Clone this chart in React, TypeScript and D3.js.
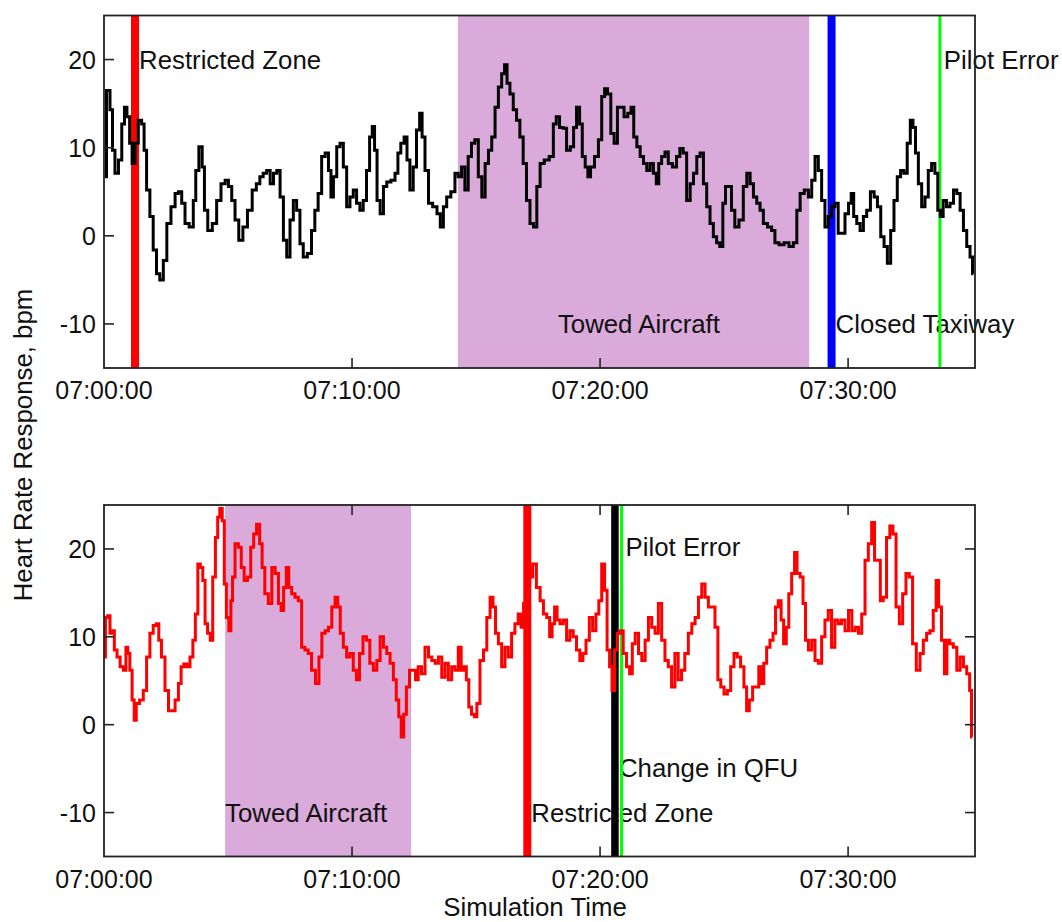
import React from "react";
import * as d3 from "d3";

// Heart-rate response traces (seconds after 07:00:00, bpm)
const topSeconds = [
  2, 10, 19, 22, 31, 39, 47, 52, 59, 65, 71, 79, 87, 95, 99, 107, 115, 123, 131, 139,
  148, 156, 168, 176, 184, 192, 200, 212, 220, 224, 235, 240, 246, 256, 268, 277, 289, 297, 305, 313,
  321, 331, 341, 353, 364, 373, 381, 389, 398, 406, 414, 422, 430, 438, 446, 454, 462, 470, 478, 486,
  498, 506, 514,
  522, 531, 539, 547, 551, 559, 567, 575, 583, 591, 599, 607, 615, 623, 631, 639, 646, 652, 657, 664,
  672, 680, 688, 700, 708, 714, 722, 730, 736, 744, 752, 760, 767, 772, 781, 789, 801, 810, 817, 825,
  833, 845, 853, 861, 869, 877, 885, 893, 901, 910, 918, 926, 934, 942, 950, 958, 966, 972, 978, 986,
  994, 1002, 1010, 1018, 1026, 1035, 1043,
  1051, 1059, 1071, 1083, 1091, 1097, 1107, 1115, 1123, 1133, 1139, 1147, 1154, 1160, 1168, 1173, 1181, 1192, 1200, 1208,
  1214, 1222, 1230, 1238, 1246, 1254, 1262, 1272, 1278, 1285, 1293, 1301, 1309, 1317, 1325, 1333, 1339, 1345, 1353, 1361,
  1369, 1381, 1389, 1397, 1405, 1414, 1422, 1430, 1438, 1446, 1454, 1462, 1470, 1478, 1486, 1493, 1501, 1506, 1514, 1522,
  1530, 1542, 1551, 1559, 1567, 1575,
  1583, 1591, 1599, 1611, 1619, 1627, 1639, 1651, 1663, 1672, 1680, 1688, 1700, 1708, 1716, 1724, 1732, 1740, 1748, 1756,
  1764, 1772, 1780, 1788, 1797, 1805, 1810, 1817, 1825, 1833, 1841, 1849, 1859, 1867, 1875, 1883, 1891, 1899, 1907, 1915,
  1923, 1931, 1939, 1947, 1954, 1960, 1966, 1974, 1982, 1990, 1998, 2006, 2014, 2020, 2026, 2034, 2042, 2051, 2059, 2067,
  2075, 2083, 2091, 2099, 2103,
];
const topBpm = [
  6.7, 16.5, 14.3, 9.7, 7.1, 8.6, 12.7, 14.6, 13.5, 10.5, 8.2, 10.5, 13.1, 12.7, 9.7, 5.2, 2.2, -1.6, -4.3, -5.0,
  -2.8, 1.4, 3.3, 4.8, 5.0, 3.7, 1.4, 1.0, 4.0, 7.4, 10.1, 7.8, 2.9, 0.6, 1.4, 4.0, 5.9, 6.3, 5.6, 4.0,
  1.8, -0.5, 1.0, 2.9, 5.2, 5.9, 6.7, 7.1, 7.4, 5.9, 7.1, 7.4, 4.4, -0.5, -2.4, 1.8, 4.0, 2.9, -0.9, -2.4,
  -2.0, 0.6, 2.9,
  4.8, 9.0, 9.4, 7.4, 4.4, 6.7, 10.1, 10.5, 7.8, 3.3, 4.4, 5.2, 3.7, 2.9, 4.0, 7.4, 11.2, 12.4, 9.7, 4.0,
  2.5, 5.6, 6.1, 6.3, 7.1, 9.4, 10.5, 11.2, 8.6, 5.2, 7.8, 12.0, 13.9, 11.2, 7.4, 3.7, 3.3, 2.5, 1.0, 3.3,
  4.4, 5.0, 7.1, 6.7, 7.8, 5.2, 9.0, 10.5, 10.9, 6.7, 4.4, 8.2, 9.7, 11.2, 14.6, 16.9, 18.4, 19.4, 17.3, 16.1,
  14.3, 13.1, 11.2, 8.2, 4.0, 1.4, 1.0,
  5.6, 8.2, 8.6, 9.0, 12.7, 13.5, 12.3, 12.2, 9.7, 10.1, 12.3, 14.6, 12.7, 9.0, 7.8, 6.7, 7.8, 9.0, 10.9, 15.8,
  16.7, 16.1, 11.6, 10.5, 14.6, 14.6, 13.5, 13.9, 14.6, 11.2, 10.1, 9.0, 8.2, 7.4, 8.2, 7.1, 5.9, 8.2, 9.0, 9.5,
  8.2, 7.8, 9.0, 9.9, 9.4, 4.0, 5.9, 7.1, 9.0, 9.4, 5.9, 3.3, 1.4, -0.1, -0.8, -1.2, 3.7, 5.6, 5.6, 2.9,
  1.0, 1.8, 5.6, 7.1, 5.9, 4.4,
  3.7, 2.9, 1.4, 1.0, 0.6, -0.8, -1.0, -0.8, -1.2, -0.8, 2.9, 4.8, 5.2, 4.4, 6.3, 9.0, 7.4, 4.0, 1.0, 2.2,
  3.3, 3.7, 0.3, 0.3, 2.5, 3.7, 4.8, 2.2, 1.4, 0.6, 2.2, 2.9, 5.0, 4.4, 3.3, -0.1, -1.2, -3.1, 0.6, 4.0,
  6.7, 7.4, 7.1, 10.5, 13.1, 12.3, 9.4, 5.9, 3.3, 4.4, 7.4, 8.2, 7.1, 2.9, 2.2, 4.0, 3.3, 3.7, 5.2, 4.8,
  2.9, 0.6, -1.2, -2.4, -4.3,
];

const bottomSeconds = [
  1, 6, 12, 17, 22, 28, 35, 43, 51, 55, 60, 65, 71, 75, 81, 91, 99, 107, 115, 123,
  130, 135, 143, 152, 160, 168, 176, 184, 189, 197, 204, 212, 218, 224, 230, 236, 242, 247, 254, 260,
  266, 273, 277, 283, 289, 293, 299, 305, 309, 313, 321, 329, 335, 343, 351, 359, 365, 373, 380, 385,
  393, 402, 410, 418, 426, 431, 438, 444, 450, 458, 466, 474, 482, 490, 498, 506,
  517, 523, 531, 539, 547, 555, 563, 568, 575, 583, 591, 599, 607, 614, 622, 631, 639, 647, 656, 664,
  672, 680, 688, 696, 704, 710, 716, 722, 728, 735, 743, 751, 756, 764, 772, 781, 789, 797, 805, 813,
  821, 829, 837, 845, 853, 861, 867, 873, 880, 885, 893, 899, 905, 914, 922, 930, 938, 944, 950, 958,
  966, 974, 982, 990, 998, 1006, 1012, 1018, 1026, 1033, 1041,
  1051, 1059, 1067, 1075, 1081, 1087, 1093, 1099, 1107, 1115, 1123, 1131, 1139, 1147, 1155, 1162, 1170, 1178, 1186, 1194,
  1200, 1208, 1214, 1220, 1226, 1232, 1238, 1246, 1252, 1260, 1268, 1275, 1281, 1289, 1297, 1305, 1313, 1321, 1329, 1337,
  1345, 1353, 1361, 1369, 1377, 1385, 1393, 1401, 1409, 1418, 1426, 1434, 1442, 1450, 1458, 1466, 1474, 1482, 1488, 1496,
  1504, 1512, 1520, 1528, 1536, 1544, 1552, 1557, 1565, 1573,
  1581, 1587, 1593, 1599, 1607, 1615, 1622, 1627, 1635, 1641, 1647, 1654, 1659, 1668, 1673, 1680, 1688, 1694, 1700, 1708,
  1716, 1724, 1732, 1740, 1748, 1756, 1764, 1772, 1780, 1788, 1797, 1805, 1813, 1821, 1829, 1837, 1845, 1853, 1861, 1867,
  1875, 1881, 1889, 1897, 1905, 1912, 1920, 1928, 1936, 1944, 1952, 1960, 1970, 1978, 1986, 1994, 2002, 2010, 2016, 2022,
  2030, 2036, 2042, 2050, 2059, 2067, 2075, 2083, 2091, 2097, 2100,
];
const bottomBpm = [
  7.7, 12.2, 12.4, 10.4, 10.7, 8.5, 7.7, 6.6, 6.2, 8.8, 8.1, 6.2, 2.8, 0.5, 2.4, 2.8, 3.9, 7.7, 10.4, 11.3,
  11.5, 9.6, 7.7, 3.9, 1.6, 1.6, 2.8, 4.7, 6.6, 6.9, 6.6, 7.7, 9.6, 12.6, 18.3, 17.9, 16.4, 11.5, 10.4, 9.6,
  16.8, 21.3, 23.6, 24.6, 23.2, 16.0, 12.2, 10.7, 14.1, 16.8, 20.6, 20.2, 17.9, 16.4, 16.8, 20.2, 21.7, 22.8, 20.6, 17.9,
  14.9, 13.8, 17.9, 17.2, 13.8, 13.0, 15.6, 17.9, 15.6, 14.9, 14.5, 14.1, 8.8, 8.5, 8.1, 6.2,
  4.7, 7.7, 10.4, 10.7, 11.1, 13.4, 14.5, 13.4, 10.4, 8.8, 7.7, 8.1, 6.2, 5.1, 8.1, 10.0, 9.6, 7.0, 6.2, 7.3,
  10.0, 8.8, 8.1, 7.0, 5.1, 2.8, 0.9, -1.4, 1.2, 4.3, 6.2, 6.2, 5.1, 6.6, 5.8, 8.8, 7.7, 7.3, 7.0, 7.7,
  5.4, 7.0, 5.1, 6.6, 6.2, 8.8, 6.2, 6.6, 5.1, 2.0, 1.2, 0.9, 2.4, 7.3, 8.5, 12.2, 14.5, 13.4, 10.4, 9.2,
  6.6, 8.8, 7.7, 10.4, 11.5, 12.6, 11.1, 13.8, 17.9, 16.8, 18.3,
  15.6, 14.1, 12.6, 12.2, 10.0, 11.5, 13.4, 11.9, 11.5, 11.9, 9.6, 10.7, 10.0, 8.5, 7.3, 8.1, 9.6, 12.2, 10.7, 12.6,
  14.1, 18.3, 15.3, 8.5, 6.6, 3.9, 8.5, 10.4, 10.7, 8.1, 6.6, 5.8, 9.2, 10.4, 8.1, 7.3, 9.6, 12.2, 11.1, 10.4,
  13.8, 9.6, 7.3, 6.6, 4.3, 8.1, 5.1, 6.2, 8.1, 10.4, 11.5, 12.2, 14.5, 16.0, 14.5, 13.4, 13.4, 11.1, 5.1, 4.3,
  3.5, 3.9, 6.6, 8.1, 7.7, 6.6, 4.3, 1.6, 2.8, 4.3,
  4.3, 6.6, 4.7, 7.0, 8.8, 9.6, 10.4, 13.4, 14.1, 11.9, 9.2, 11.1, 14.9, 17.2, 19.6, 17.2, 16.8, 13.8, 9.6, 8.5,
  9.6, 7.3, 7.0, 10.0, 11.9, 13.0, 8.8, 11.9, 11.5, 11.9, 10.7, 13.0, 10.7, 11.1, 10.4, 12.6, 18.7, 20.6, 23.0, 18.7,
  18.7, 14.1, 14.5, 21.3, 22.6, 21.7, 13.4, 11.5, 14.9, 17.2, 16.8, 9.2, 6.2, 8.1, 9.6, 10.4, 10.7, 13.0, 16.4, 13.4,
  9.6, 5.8, 9.6, 9.2, 8.8, 6.2, 7.7, 6.6, 5.8, 3.9, -1.4,
];

// Scenario events (seconds after 07:00:00)
const topEventNames = ["Restricted Zone", "Closed Taxiway", "Pilot Error"];
const topEventSeconds = [75, 1760, 2022];
const topTowedSpan = [856, 1706];

const bottomEventNames = ["Restricted Zone", "Change in QFU", "Pilot Error"];
const bottomEventSeconds = [1024, 1236, 1252];
const bottomTowedSpan = [293, 743];

const yTicks = [-10, 0, 10, 20];
const xTickSeconds = [0, 600, 1200, 1800];
const endSeconds = 2107;

const FONT = "'Liberation Sans', Arial, sans-serif";
const FS = 25;
const FS_NOTE = 25.8;

const eventStyle: Record<string, { color: string; width: number }> = {
  "Restricted Zone": { color: "#ff0000", width: 8 },
  "Closed Taxiway": { color: "#0000ff", width: 8 },
  "Pilot Error": { color: "#00ff00", width: 3 },
  "Change in QFU": { color: "#000000", width: 7.5 },
};

const base = new Date(2000, 0, 1, 7, 0, 0);
const toDate = (s: number) => new Date(base.getTime() + s * 1000);
const fmt = d3.timeFormat("%H:%M:%S");

type LabelSpot = { name: string; at: "top" | "bottom"; offset: number };

type PanelProps = {
  top: number;
  bottom: number;
  seconds: number[];
  bpm: number[];
  color: string;
  eventNames: string[];
  eventSeconds: number[];
  towed: number[];
  towedLabelSec: number;
  labelSpots: LabelSpot[];
  mirrorTicks: boolean;
  id: string;
};

const LEFT = 104;
const RIGHT = 975;

function Panel(p: PanelProps) {
  const x = d3.scaleTime().domain([toDate(0), toDate(endSeconds)]).range([LEFT, RIGHT]);
  const y = d3.scaleLinear().domain([-15, 25]).range([p.bottom, p.top]);
  const pts = p.seconds.map((s, i) => [s, p.bpm[i]] as [number, number]);
  const line = d3
    .line<[number, number]>()
    .x((d) => x(toDate(d[0])))
    .y((d) => y(d[1]))
    .curve(d3.curveStep);
  const tl = 10;

  return (
    <g>
      <defs>
        <clipPath id={p.id}>
          <rect x={LEFT} y={p.top} width={RIGHT - LEFT} height={p.bottom - p.top} />
        </clipPath>
      </defs>
      <rect
        x={x(toDate(p.towed[0]))}
        y={p.top}
        width={x(toDate(p.towed[1])) - x(toDate(p.towed[0]))}
        height={p.bottom - p.top}
        fill="#daaadb"
      />
      {/* annotation text */}
      <text x={x(toDate(p.towedLabelSec))} y={p.bottom - 35} fontFamily={FONT} fontSize={FS_NOTE} fill="#111">
        Towed Aircraft
      </text>
      {p.labelSpots.map((l) => {
        const i = p.eventNames.indexOf(l.name);
        const ex = x(toDate(p.eventSeconds[i]));
        const ty = l.at === "top" ? p.top + l.offset : p.bottom - l.offset;
        return (
          <text key={l.name} x={ex + 4} y={ty} fontFamily={FONT} fontSize={FS_NOTE} fill="#111">
            {l.name}
          </text>
        );
      })}
      {p.eventNames.map((n, i) => (
        <line
          key={n}
          x1={x(toDate(p.eventSeconds[i]))}
          x2={x(toDate(p.eventSeconds[i]))}
          y1={p.top}
          y2={p.bottom}
          stroke={eventStyle[n].color}
          strokeWidth={eventStyle[n].width}
        />
      ))}
      <path
        d={line(pts) || ""}
        fill="none"
        stroke={p.color}
        strokeWidth={3}
        strokeLinejoin="miter"
        clipPath={`url(#${p.id})`}
      />
      {/* ticks */}
      {yTicks.map((t) => (
        <g key={"y" + t}>
          <line x1={LEFT} x2={LEFT + tl} y1={y(t)} y2={y(t)} stroke="#222" strokeWidth={1.6} />
          {p.mirrorTicks && (
            <line x1={RIGHT - tl} x2={RIGHT} y1={y(t)} y2={y(t)} stroke="#222" strokeWidth={1.6} />
          )}
          <text
            x={96}
            y={y(t)}
            dy="0.36em"
            textAnchor="end"
            fontFamily={FONT}
            fontSize={FS}
            fill="#111"
          >
            {t}
          </text>
        </g>
      ))}
      {xTickSeconds.map((s) => {
        const xx = x(toDate(s));
        return (
          <g key={"x" + s}>
            {s > 0 && <line x1={xx} x2={xx} y1={p.bottom} y2={p.bottom - tl} stroke="#222" strokeWidth={1.6} />}
            {s > 0 && p.mirrorTicks && (
              <line x1={xx} x2={xx} y1={p.top} y2={p.top + tl} stroke="#222" strokeWidth={1.6} />
            )}
            <text x={xx} y={p.bottom + 31} textAnchor="middle" fontFamily={FONT} fontSize={FS} fill="#111">
              {fmt(toDate(s))}
            </text>
          </g>
        );
      })}
      <rect
        x={LEFT}
        y={p.top}
        width={RIGHT - LEFT}
        height={p.bottom - p.top}
        fill="none"
        stroke="#222"
        strokeWidth={1.8}
      />
    </g>
  );
}

export default function App() {
  return (
    <svg
      width={1062}
      height={922}
      style={{ position: "absolute", left: 0, top: 0, background: "#fff" }}
    >
      <Panel
        id="clipTop"
        top={15.5}
        bottom={368}
        seconds={topSeconds}
        bpm={topBpm}
        color="#000000"
        eventNames={topEventNames}
        eventSeconds={topEventSeconds}
        towed={topTowedSpan}
        towedLabelSec={1098}
        labelSpots={[
          { name: "Restricted Zone", at: "top", offset: 53 },
          { name: "Pilot Error", at: "top", offset: 53 },
          { name: "Closed Taxiway", at: "bottom", offset: 35 },
        ]}
        mirrorTicks={false}
      />
      <Panel
        id="clipBottom"
        top={505}
        bottom={856.5}
        seconds={bottomSeconds}
        bpm={bottomBpm}
        color="#ff0000"
        eventNames={bottomEventNames}
        eventSeconds={bottomEventSeconds}
        towed={bottomTowedSpan}
        towedLabelSec={bottomTowedSpan[0]}
        labelSpots={[
          { name: "Pilot Error", at: "top", offset: 51 },
          { name: "Change in QFU", at: "bottom", offset: 80 },
          { name: "Restricted Zone", at: "bottom", offset: 35 },
        ]}
        mirrorTicks={true}
      />
      <text
        transform="translate(32,445) rotate(-90)"
        textAnchor="middle"
        fontFamily={FONT}
        fontSize={FS_NOTE}
        fill="#111"
      >
        Heart Rate Response, bpm
      </text>
      <text x={535} y={916} textAnchor="middle" fontFamily={FONT} fontSize={FS_NOTE} fill="#111">
        Simulation Time
      </text>
    </svg>
  );
}
